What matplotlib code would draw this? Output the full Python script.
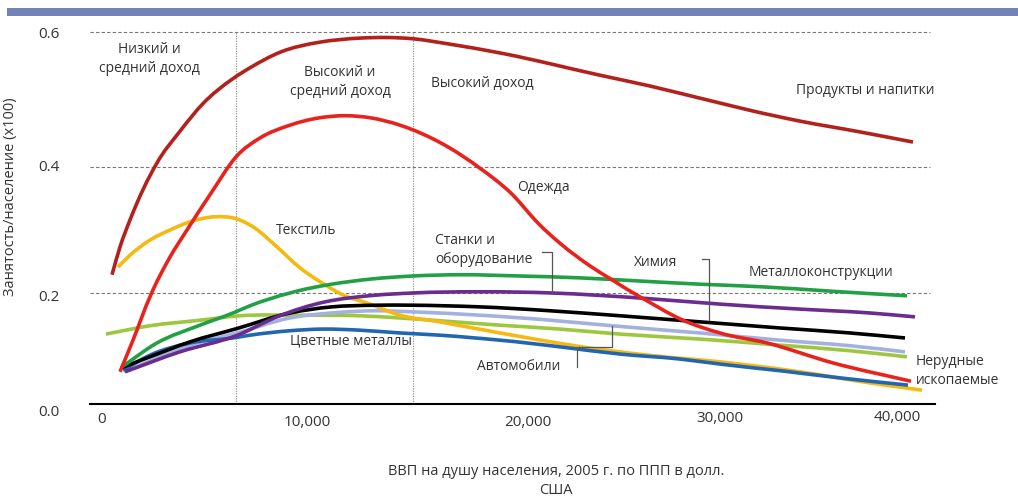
import numpy as np
import matplotlib
matplotlib.use("Agg")
import matplotlib.pyplot as plt
from matplotlib.lines import Line2D
from matplotlib.patches import Rectangle, PathPatch
from matplotlib.path import Path
from matplotlib.transforms import ScaledTranslation

plt.rcParams['font.family'] = ['Open Sans', 'DejaVu Sans']

# ---------------- data ----------------
x_ticks = [0, 10000, 20000, 30000, 40000]
y_ticks = [0.0, 0.2, 0.4, 0.6]
x_tick_labels = ["0", "10,000", "20,000", "30,000", "40,000"]
y_tick_labels = ["0.0", "0.2", "0.4", "0.6"]

income_bounds = [6540, 14800]

food_x = [488, 878, 1366, 2683, 3805, 4927, 6390, 7220, 8683, 10588, 12398, 14796, 16470,
          18733, 21146, 23750, 26354, 28958, 31695, 34520, 37910, 40904]
food_y = [0.229, 0.273, 0.316, 0.406, 0.453, 0.494, 0.531, 0.547, 0.570, 0.585, 0.591, 0.590,
          0.582, 0.569, 0.553, 0.536, 0.520, 0.502, 0.484, 0.468, 0.452, 0.437]

apparel_x = [878, 1512, 2341, 3317, 4146, 5268, 6537, 7707, 9171, 10588, 11719, 12850, 14208,
             14796, 16470, 17828, 19186, 20365, 21667, 23229, 24427, 25833, 28073, 30000,
             32656, 36385, 40791]
apparel_y = [0.058, 0.115, 0.193, 0.257, 0.300, 0.356, 0.415, 0.443, 0.462, 0.473, 0.476, 0.473,
             0.462, 0.455, 0.428, 0.398, 0.360, 0.316, 0.279, 0.243, 0.220, 0.193, 0.151, 0.128,
             0.110, 0.074, 0.041]

textile_x = [780, 1366, 2341, 3317, 4293, 5512, 6537, 7463, 8439, 9658, 10588, 11719, 12714,
             14208, 16018, 18733, 22240, 26250, 30000, 34520, 38475, 41413]
textile_y = [0.241, 0.260, 0.284, 0.300, 0.313, 0.321, 0.318, 0.303, 0.276, 0.240, 0.218, 0.195,
             0.182, 0.160, 0.148, 0.128, 0.106, 0.088, 0.076, 0.058, 0.038, 0.025]

nonferrous_x = [1024, 2341, 4293, 6390, 7220, 9171, 10724, 12398, 14208, 16018, 18733, 21667,
                24792, 27917, 30000, 33390, 36780, 40622]
nonferrous_y = [0.061, 0.088, 0.110, 0.119, 0.124, 0.132, 0.135, 0.133, 0.128, 0.124, 0.115,
                0.103, 0.090, 0.081, 0.072, 0.060, 0.047, 0.034]

fabmetal_x = [976, 2683, 4780, 6390, 7220, 9171, 11122, 12850, 14796, 16923, 19638, 22708,
              25833, 28958, 32260, 36215, 40565]
fabmetal_y = [0.067, 0.110, 0.142, 0.164, 0.177, 0.200, 0.214, 0.222, 0.227, 0.229, 0.227,
              0.224, 0.219, 0.214, 0.210, 0.203, 0.195]

machinery_x = [1122, 3805, 6611, 8537, 10814, 13077, 14796, 17828, 21250, 25833, 30000, 34520,
               38475, 41017]
machinery_y = [0.058, 0.094, 0.124, 0.157, 0.184, 0.196, 0.200, 0.202, 0.200, 0.191, 0.180,
               0.171, 0.164, 0.157]

chemicals_x = [927, 2341, 4293, 6585, 9171, 11122, 13077, 14796, 17828, 21146, 24792,
               28958, 33390, 37345, 40452]
chemicals_y = [0.065, 0.085, 0.112, 0.136, 0.164, 0.175, 0.178, 0.178, 0.175, 0.168,
               0.159, 0.148, 0.137, 0.128, 0.119]

autos_x = [1073, 4293, 6585, 9171, 11122, 13077, 14796, 17828, 21146, 24375, 28958, 33390,
           37345, 40452]
autos_y = [0.058, 0.106, 0.128, 0.155, 0.164, 0.168, 0.166, 0.160, 0.151, 0.141, 0.128, 0.115,
           0.105, 0.094]

minerals_x = [195, 2341, 4780, 6732, 9658, 12398, 14208, 16018, 18733, 21667, 24792, 28958,
              33390, 37345, 40565]
minerals_y = [0.126, 0.141, 0.151, 0.159, 0.160, 0.159, 0.155, 0.150, 0.142, 0.135, 0.126,
              0.117, 0.106, 0.096, 0.085]

# ---------------- figure ----------------
W, H = 1018, 499
fig = plt.figure(figsize=(W / 100, H / 100), dpi=100)
fig.patch.set_facecolor("white")


def pw(xs, ys):
    xs = np.asarray(xs, float)
    ys = np.asarray(ys, float)

    def f(v):
        v = np.asarray(v, float)
        out = np.interp(v, xs, ys)
        lo_s = (ys[1] - ys[0]) / (xs[1] - xs[0])
        hi_s = (ys[-1] - ys[-2]) / (xs[-1] - xs[-2])
        out = np.where(v < xs[0], ys[0] + (v - xs[0]) * lo_s, out)
        out = np.where(v > xs[-1], ys[-1] + (v - xs[-1]) * hi_s, out)
        return out
    return f


# uneven tick spacing of the original artwork
x_px = [102, 307, 528, 720, 897]
y_px = [0, 111, 237, 372]

ax = fig.add_axes([90 / W, (H - 404) / H, 845 / W, (404 - 25) / H])
ax.set_xscale('function', functions=(pw(x_ticks, x_px), pw(x_px, x_ticks)))
ax.set_yscale('function', functions=(pw(y_ticks, y_px), pw(y_px, y_ticks)))
ax.set_xlim(-585, 42147)
ax.set_ylim(0, 0.6104)

for s in ["top", "right", "left"]:
    ax.spines[s].set_visible(False)
ax.spines["bottom"].set_color("black")
ax.spines["bottom"].set_linewidth(1.5)

ax.set_xticks(x_ticks)
ax.set_xticklabels(x_tick_labels)
ax.set_yticks(y_ticks)
ax.set_yticklabels(y_tick_labels)
ax.tick_params(axis="both", length=0, labelsize=11, labelcolor="#333333")
ax.tick_params(axis="x", pad=8)
ax.tick_params(axis="y", pad=22)
ax.minorticks_off()

# small per-label offsets (pixels, positive = down) as in the artwork
for lab, dy in zip(ax.get_yticklabels(), [6, 2, -2, 0]):
    lab.set_transform(lab.get_transform() + ScaledTranslation(0, -dy / 100, fig.dpi_scale_trans))
for lab, dy in zip(ax.get_xticklabels(), [-3, 0, 0, -4, -5]):
    lab.set_transform(lab.get_transform() + ScaledTranslation(0, -dy / 100, fig.dpi_scale_trans))

for yv in y_ticks[1:]:
    ax.axhline(yv, xmin=0, xmax=(930 - 90) / 845, color="#777777", lw=0.8,
               ls=(0, (3, 2)), zorder=1)
for xv in income_bounds:
    ax.plot([xv, xv], [0, 0.6], color="#999999", lw=0.9, ls=(0, (1, 1)), zorder=1)


def smooth_path(xs, ys):
    """Cubic Hermite (Bezier) path through the points, parametrised by x."""
    x = np.asarray(xs, float)
    y = np.asarray(ys, float)
    h = np.diff(x)
    d = np.diff(y) / h
    m = np.empty_like(y)
    m[0] = d[0]
    m[-1] = d[-1]
    m[1:-1] = (d[:-1] * h[1:] + d[1:] * h[:-1]) / (h[:-1] + h[1:])
    verts = [(x[0], y[0])]
    codes = [Path.MOVETO]
    for i in range(len(x) - 1):
        verts += [(x[i] + h[i] / 3, y[i] + m[i] * h[i] / 3),
                  (x[i + 1] - h[i] / 3, y[i + 1] - m[i + 1] * h[i] / 3),
                  (x[i + 1], y[i + 1])]
        codes += [Path.CURVE4] * 3
    return Path(verts, codes)


lw = 2.6
series = [
    (minerals_x, minerals_y, "#9DC73F"),
    (autos_x, autos_y, "#A3B1DE"),
    (textile_x, textile_y, "#F6B912"),
    (nonferrous_x, nonferrous_y, "#2166B2"),
    (chemicals_x, chemicals_y, "#000000"),
    (machinery_x, machinery_y, "#6A2C90"),
    (fabmetal_x, fabmetal_y, "#22A046"),
    (apparel_x, apparel_y, "#E8221C"),
    (food_x, food_y, "#B3211C"),
]
for xs, ys, c in series:
    ax.add_patch(PathPatch(smooth_path(xs, ys), facecolor="none", edgecolor=c, lw=lw,
                           capstyle="butt", joinstyle="round", zorder=3))

ax.set_ylabel("Занятость/население (x100)", fontsize=10.5, color="#333333")
ax.yaxis.set_label_coords(-(90 - 18) / 845, (404 - 197) / (404 - 25))

# top band
fig.add_artist(Rectangle((7 / W, 1 - 16 / H), 1 - 7 / W, 8 / H, transform=fig.transFigure,
                         facecolor="#7084B8", edgecolor="none"))

tc = "#333333"


def ftext(x, y, s, ha="left", size=10):
    fig.text(x / W, 1 - y / H, s, ha=ha, va="center", fontsize=size, color=tc,
             linespacing=1.35)


ftext(149, 59, "Низкий и\nсредний доход", ha="center")
ftext(340, 82, "Высокий и\nсредний доход", ha="center")
ftext(431, 83, "Высокий доход")
ftext(796, 90, "Продукты и напитки")
ftext(517, 188, "Одежда")
ftext(276, 231, "Текстиль")
ftext(435, 250, "Станки и\nоборудование")
ftext(634, 262, "Химия")
ftext(749, 273, "Металлоконструкции")
ftext(290, 341, "Цветные металлы")
ftext(477, 367, "Автомобили")
ftext(916, 371, "Нерудные\nископаемые")
ftext(556, 481, "ВВП на душу населения, 2005 г. по ППП в долл.\nСША", ha="center", size=10.5)


def fline(xs, ys):
    fig.add_artist(Line2D(np.array(xs) / W, 1 - np.array(ys) / H, transform=fig.transFigure,
                          color="#555555", lw=0.9, zorder=5))


fline([542, 552, 552], [252, 252, 293])
fline([702, 709, 709], [259, 259, 320])
fline([577, 577, 612, 612], [367, 347, 347, 326])

fig.savefig("out.png", dpi=100)
